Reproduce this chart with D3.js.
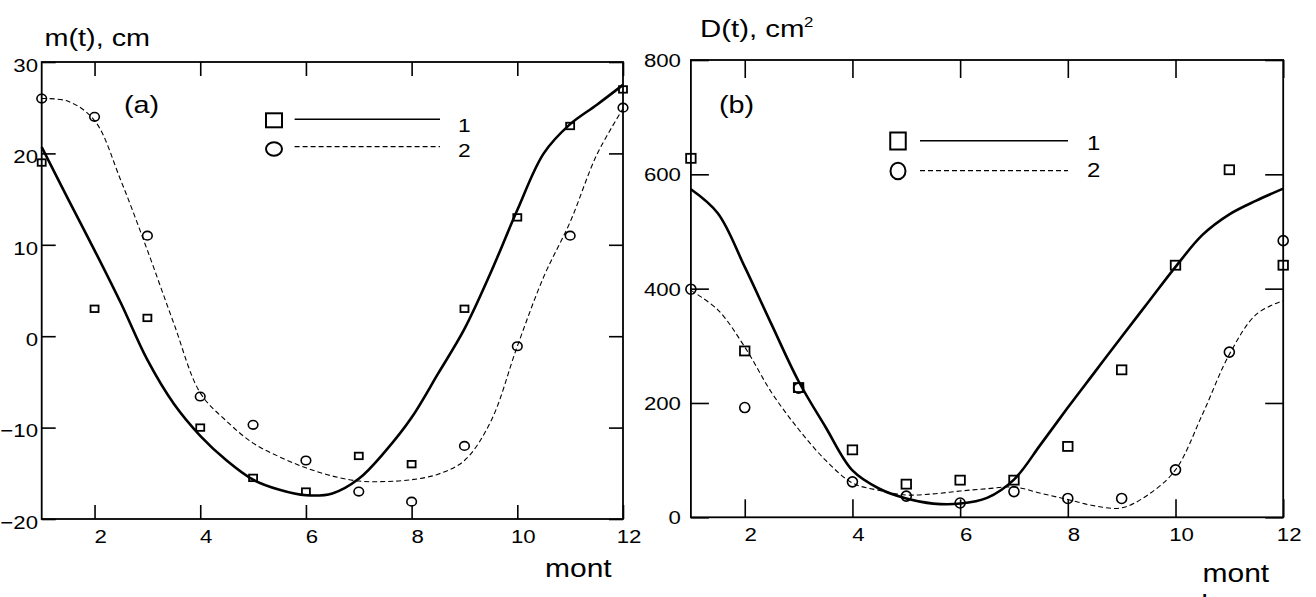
<!DOCTYPE html>
<html>
<head>
<meta charset="utf-8">
<script src="https://cdn.jsdelivr.net/npm/d3@7"></script>
<style>
  html, body { margin: 0; padding: 0; background: #fff; }
  svg { display: block; }
  text { font-family: "Liberation Sans", Arial, Helvetica, sans-serif; fill: #000; }
</style>
</head>
<body>
<script>
// Monthly observations (1..12) and fitted seasonal curves.
const months = [1, 2, 3, 4, 5, 6, 7, 8, 9, 10, 11, 12];
const fitMonths = [1, 1.5, 2, 2.5, 3, 3.5, 4, 4.5, 5, 5.5, 6, 6.5, 7, 7.5, 8, 8.5, 9, 9.5, 10, 10.5, 11, 11.5, 12];

// (a) mean m(t), cm
const mObs1 = [19, 3, 2, -10, -15.5, -17, -13.1, -14, 3, 13, 23, 27];
const mObs2 = [26, 24, 11, -6.6, -9.7, -13.6, -17, -18.1, -12, -1.1, 11, 25];
const mFit1 = [20.7, 15.0, 9.4, 3.6, -2.6, -7.4, -10.9, -13.6, -15.7, -16.8, -17.4, -17.2, -15.6, -12.6, -8.9, -4.1, 0.8, 7.0, 13.8, 20.0, 23.2, 25.3, 27.5];
const mFit2 = [26.0, 25.7, 23.6, 17.0, 9.4, 1.4, -6.2, -9.3, -11.7, -13.2, -14.4, -15.3, -15.85, -15.9, -15.7, -15.1, -13.6, -9.3, -1.1, 6.5, 12.5, 19.8, 24.9];

// (b) variance D(t), cm^2
const dObs1 = [628, 291, 227, 118, 58, 65, 65, 124, 258, 441, 608, 441];
const dObs2 = [399, 192, 226, 62, 37, 25, 45, 33, 33, 83, 289, 484];
const dFit1 = [574, 532, 438, 337, 238, 158, 82, 50, 33, 24, 24, 34, 66, 128, 192, 254, 316, 377, 438, 494, 530, 554, 575];
const dFit2 = [397, 363, 298, 218, 154, 100, 60, 47, 39, 41, 46, 50, 53, 42, 31, 20, 16.5, 40, 83, 180, 285, 355, 379];

// Tick labels
const xTicks = [2, 4, 6, 8, 10, 12];
const mTicks = [-20, -10, 0, 10, 20, 30];
const dTicks = [0, 200, 400, 600, 800];
const legendLabels = ["1", "2"];

const SX = 1.2;  // horizontal stretch of the lettering
const svg = d3.select("body").append("svg").attr("width", 1316).attr("height", 597);

function label(g, x, y, txt, size, anchor) {
  return g.append("text")
    .attr("transform", `translate(${x},${y}) scale(${SX},1)`)
    .attr("font-size", size)
    .attr("text-anchor", anchor || "start")
    .text(txt);
}

function styleAxis(sel) {
  sel.select(".domain").remove();
  sel.selectAll(".tick line").attr("stroke", "#000").attr("stroke-width", 1.6);
  sel.attr("font-family", null).attr("font-size", null);
  sel.selectAll(".tick text").attr("font-size", 18.5).attr("fill", "#000");
}

function panel(cfg) {
  const g = svg.append("g");
  const x = d3.scaleLinear().domain([1, 12]).range([cfg.L, cfg.R]);
  const y = d3.scaleLinear().domain(cfg.yDomain).range([cfg.B, cfg.T]);
  const tl = cfg.tickLen;

  // bottom axis with labels
  g.append("g").attr("transform", `translate(0,${cfg.B})`)
    .call(d3.axisBottom(x).tickValues(xTicks).tickSizeInner(-tl).tickSizeOuter(0).tickPadding(11))
    .call(styleAxis)
    .selectAll(".tick text")
    .attr("transform", `scale(${SX},1)`)
    .attr("dx", 5.5 / SX);

  // top axis, ticks only
  g.append("g").attr("transform", `translate(0,${cfg.T})`)
    .call(d3.axisTop(x).tickValues(xTicks).tickSizeInner(-tl).tickSizeOuter(0).tickFormat(""))
    .call(styleAxis);

  // left axis with labels
  g.append("g").attr("transform", `translate(${cfg.L},0)`)
    .call(d3.axisLeft(y).tickValues(cfg.yTicks).tickSizeInner(-tl).tickSizeOuter(0))
    .call(styleAxis)
    .selectAll(".tick text")
    .attr("transform", `scale(${SX},1)`)
    .attr("x", -cfg.labelPad / SX)
    .attr("dy", cfg.labelDy);

  // right axis, ticks only
  g.append("g").attr("transform", `translate(${cfg.R},0)`)
    .call(d3.axisRight(y).tickValues(cfg.yTicks).tickSizeInner(-tl).tickSizeOuter(0).tickFormat(""))
    .call(styleAxis);

  // frame
  g.append("rect")
    .attr("x", cfg.L).attr("y", cfg.T)
    .attr("width", cfg.R - cfg.L).attr("height", cfg.B - cfg.T)
    .attr("fill", "none").attr("stroke", "#000").attr("stroke-width", 1.8);

  const line = d3.line()
    .x((d, i) => x(fitMonths[i]))
    .y(d => y(d))
    .curve(d3.curveCatmullRom.alpha(0.5));

  g.append("path").datum(cfg.fit2)
    .attr("d", line)
    .attr("fill", "none").attr("stroke", "#000")
    .attr("stroke-width", 1.1).attr("stroke-dasharray", "5,3");

  g.append("path").datum(cfg.fit1)
    .attr("d", line)
    .attr("fill", "none").attr("stroke", "#000")
    .attr("stroke-width", 2.6).attr("stroke-linejoin", "round");

  // observed values: squares (1) and circles (2)
  g.selectAll(".sq").data(cfg.obs1).join("rect")
    .attr("x", (d, i) => x(months[i]) - cfg.sqW / 2)
    .attr("y", d => y(d) - cfg.sqH / 2)
    .attr("width", cfg.sqW).attr("height", cfg.sqH)
    .attr("fill", "none").attr("stroke", "#000").attr("stroke-width", 1.8);

  g.selectAll(".ci").data(cfg.obs2).join("ellipse")
    .attr("cx", (d, i) => x(months[i]))
    .attr("cy", d => y(d))
    .attr("rx", cfg.cRx).attr("ry", cfg.cRy)
    .attr("fill", "none").attr("stroke", "#000").attr("stroke-width", 1.6);

  // legend
  const lg = cfg.legend;
  g.append("rect")
    .attr("x", lg.mx - lg.sqW / 2).attr("y", lg.y1 - lg.sqH / 2)
    .attr("width", lg.sqW).attr("height", lg.sqH)
    .attr("fill", "none").attr("stroke", "#000").attr("stroke-width", 2);
  g.append("ellipse")
    .attr("cx", lg.mx).attr("cy", lg.y2)
    .attr("rx", lg.cRx).attr("ry", lg.cRy)
    .attr("fill", "none").attr("stroke", "#000").attr("stroke-width", 2);
  g.append("line")
    .attr("x1", lg.lx0).attr("x2", lg.lx1).attr("y1", lg.ly1).attr("y2", lg.ly1)
    .attr("stroke", "#000").attr("stroke-width", 1.5);
  g.append("line")
    .attr("x1", lg.lx0).attr("x2", lg.lx1).attr("y1", lg.ly2).attr("y2", lg.ly2)
    .attr("stroke", "#000").attr("stroke-width", 1.2).attr("stroke-dasharray", "5,3");
  label(g, lg.tx, lg.tb1, legendLabels[0], lg.fs);
  label(g, lg.tx, lg.tb2, legendLabels[1], lg.fs);

  return g;
}

// (a) panel
const ga = panel({
  L: 41.7, R: 623, T: 62, B: 519,
  yDomain: [-20, 30], yTicks: mTicks, tickLen: 14, labelPad: 3.7, labelDy: "0.5em",
  obs1: mObs1, obs2: mObs2, fit1: mFit1, fit2: mFit2,
  sqW: 8, sqH: 6.5, cRx: 4.8, cRy: 4.3,
  legend: { mx: 274, y1: 120.3, y2: 149, sqW: 16, sqH: 14, cRx: 8, cRy: 6.8,
            lx0: 294.6, lx1: 440, ly1: 119.3, ly2: 146.7, tx: 458, tb1: 132, tb2: 156.5, fs: 19 }
});
label(ga, 44.5, 46, "m(t), cm", 24);
label(ga, 124, 113, "(a)", 24);
label(ga, 545, 576.7, "mont", 25);

// (b) panel
const gb = panel({
  L: 690.9, R: 1283.2, T: 60, B: 517.3,
  yDomain: [0, 800], yTicks: dTicks, tickLen: 18, labelPad: 10, labelDy: "0.36em",
  obs1: dObs1, obs2: dObs2, fit1: dFit1, fit2: dFit2,
  sqW: 9.5, sqH: 9, cRx: 5, cRy: 5,
  legend: { mx: 898, y1: 141, y2: 171, sqW: 15.5, sqH: 17, cRx: 7.5, cRy: 8.3,
            lx0: 920, lx1: 1068, ly1: 140.7, ly2: 170.7, tx: 1087, tb1: 150, tb2: 177, fs: 20 }
});
label(gb, 700, 37, "D(t), cm", 24.5);
label(gb, 804, 26.7, "2", 14);
label(gb, 719, 113, "(b)", 24);
// axis caption wraps onto a second line, which runs past the bottom edge
const cap = gb.append("text")
  .attr("transform", `translate(1202.5,581.7) scale(${SX},1)`)
  .attr("font-size", 25);
cap.append("tspan").attr("x", 0).attr("y", 0).text("mont");
cap.append("tspan").attr("x", -1).attr("dy", 31.5).text("h");
</script>
</body>
</html>
